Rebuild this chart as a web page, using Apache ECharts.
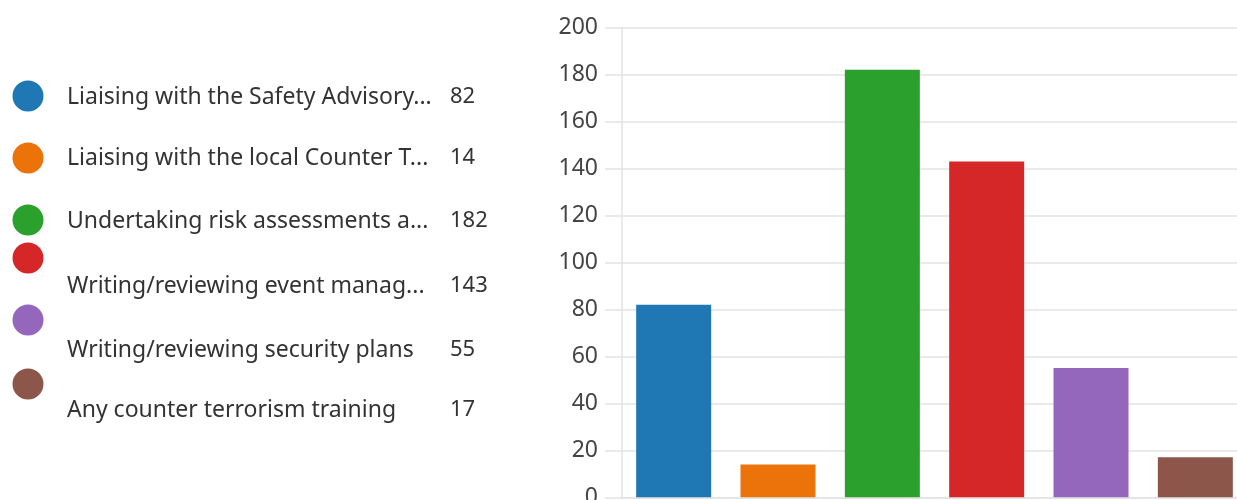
<!DOCTYPE html>
<html>
<head>
<meta charset="utf-8">
<script src="https://cdn.jsdelivr.net/npm/echarts@6/dist/echarts.min.js"></script>
<style>
html,body{margin:0;padding:0;background:#fff;}
#chart{width:1237px;height:500px;}
</style>
</head>
<body>
<div id="chart"></div>
<script>
const categories = [
  "Liaising with the Safety Advisory...",
  "Liaising with the local Counter T...",
  "Undertaking risk assessments a...",
  "Writing/reviewing event manag...",
  "Writing/reviewing security plans",
  "Any counter terrorism training"
];
const values = [82, 14, 182, 143, 55, 17];
const colors = ["#1f77b4", "#ec730a", "#2ca02c", "#d62728", "#9467bd", "#8c564b"];
const yTicks = [0, 20, 40, 60, 80, 100, 120, 140, 160, 180, 200];

// legend layout (positions only)
const dotY = [96, 158, 220, 258, 320, 384];
const textY = [97, 158, 221, 286, 350, 410];
const FONT = '"Noto Sans", "Open Sans", sans-serif';

const chart = echarts.init(document.getElementById('chart'));
const graphics = [];
categories.forEach((c, i) => {
  graphics.push({
    type: 'circle', shape: {cx: 28, cy: dotY[i], r: 15.5},
    style: {fill: colors[i]}
  });
  graphics.push({
    type: 'text', x: 67, y: textY[i],
    style: {text: c, fill: '#333', font: '23px ' + FONT, verticalAlign: 'middle'}
  });
  graphics.push({
    type: 'text', x: 450, y: textY[i],
    style: {text: String(values[i]), fill: '#333', font: '22px ' + FONT, verticalAlign: 'middle'}
  });
});

chart.setOption({
  animation: false,
  grid: {left: 621.5, top: 27.5, width: 626, bottom: 2.7, outerBoundsMode: 'none', containLabel: false},
  xAxis: {
    type: 'category', data: categories,
    axisLine: {show: true, lineStyle: {color: '#e3e3e3', width: 1.5}},
    axisTick: {show: false}, axisLabel: {show: false}
  },
  yAxis: {
    type: 'value', min: yTicks[0], max: yTicks[yTicks.length - 1], interval: 20,
    axisLine: {show: true, lineStyle: {color: '#e3e3e3', width: 1.5}},
    axisTick: {show: true, length: 16.5, lineStyle: {color: '#e3e3e3', width: 1.5}},
    splitLine: {show: true, lineStyle: {color: '#e3e3e3', width: 1.5}},
    axisLabel: {color: '#444', fontSize: 23, fontFamily: FONT, margin: 23.5}
  },
  series: [{
    type: 'bar', barWidth: 75,
    data: values.map((v, i) => ({value: v, itemStyle: {color: colors[i]}}))
  }],
  graphic: graphics
});
</script>
</body>
</html>
